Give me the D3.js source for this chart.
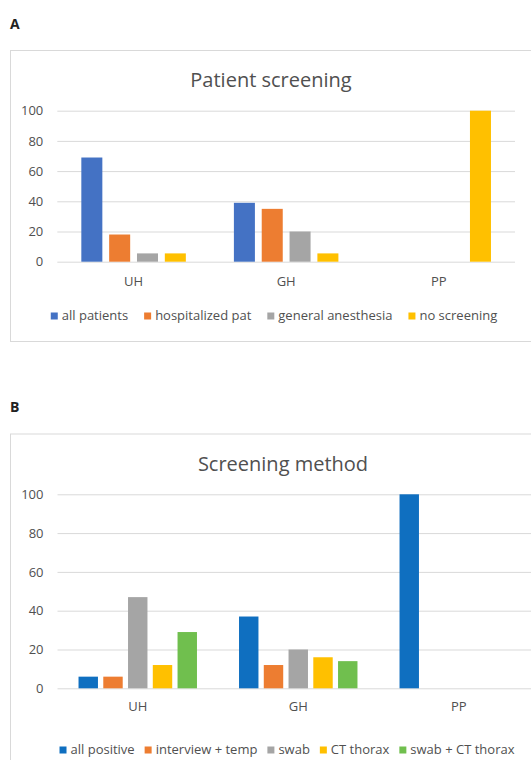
<!DOCTYPE html>
<html>
<head>
<meta charset="utf-8">
<script src="https://cdn.jsdelivr.net/npm/d3@7"></script>
<style>
  html, body { margin: 0; padding: 0; background: #fff; }
  svg { display: block; }
  text { font-family: "Open Sans", "DejaVu Sans", sans-serif; }
</style>
</head>
<body>
<svg id="chart" width="531" height="760"></svg>
<script>
// ---------- DATA ----------
const categories = ["UH", "GH", "PP"];
const yTicks = [0, 20, 40, 60, 80, 100];

// Panel A: Patient screening
const seriesA = ["all patients", "hospitalized pat", "general anesthesia", "no screening"];
const colorsA = ["#4472C4", "#ED7D31", "#A5A5A5", "#FFC000"];
const allPatients       = [69, 39, 0];
const hospitalizedPat   = [18, 35, 0];
const generalAnesthesia = [5.5, 20, 0];
const noScreening       = [5.5, 5.5, 100];
const valuesA = [allPatients, hospitalizedPat, generalAnesthesia, noScreening];

// Panel B: Screening method
const seriesB = ["all positive", "interview + temp", "swab", "CT thorax", "swab + CT thorax"];
const colorsB = ["#0F6FC0", "#ED7D31", "#A5A5A5", "#FFC000", "#70BF4E"];
const allPositive     = [6, 37, 100];
const interviewTemp   = [6, 12, 0];
const swab            = [47, 20, 0];
const ctThorax        = [12, 16, 0];
const swabCtThorax    = [29, 14, 0];
const valuesB = [allPositive, interviewTemp, swab, ctThorax, swabCtThorax];

// ---------- DRAW ----------
const svg = d3.select("#chart");
const textColor = "#505050";
const gridColor = "#D9D9D9";

function panel(cfg) {
  const g = svg.append("g");

  // panel letter
  g.append("text").attr("x", 10).attr("y", cfg.letterY)
    .attr("font-size", 14).attr("font-weight", 700).attr("fill", "#222")
    .text(cfg.letter);

  // frame
  g.append("rect")
    .attr("x", 10.5).attr("y", cfg.box[1] + 0.5)
    .attr("width", cfg.box[2] - 10).attr("height", cfg.box[3] - cfg.box[1])
    .attr("fill", "none").attr("stroke", gridColor).attr("stroke-width", 1);

  // title
  g.append("text").attr("x", cfg.titleX).attr("y", cfg.titleY)
    .attr("text-anchor", "middle").attr("font-size", 20).attr("fill", textColor)
    .text(cfg.title);

  const y = d3.scaleLinear().domain([0, 100]).range(cfg.yRange);
  const x0 = d3.scaleBand().domain(categories).range(cfg.xRange)
    .paddingInner(cfg.groupPad).paddingOuter(cfg.groupPad / 2);
  const x1 = d3.scaleBand().domain(cfg.series).range([0, x0.bandwidth()])
    .paddingInner(cfg.barPad).paddingOuter(0);

  // gridlines
  const yAxis = d3.axisLeft(y).tickValues(yTicks)
    .tickSize(-(cfg.xRange[1] - cfg.xRange[0])).tickPadding(14);
  const ga = g.append("g").attr("transform", `translate(${cfg.xRange[0]},0)`).call(yAxis);
  ga.select(".domain").remove();
  ga.selectAll(".tick line").attr("stroke", gridColor).attr("stroke-width", 1);
  ga.selectAll(".tick text").attr("font-size", 13).attr("fill", textColor)
    .attr("font-family", '"Open Sans", sans-serif');

  // bars
  cfg.series.forEach((s, si) => {
    g.append("g").attr("fill", cfg.colors[si])
      .selectAll("rect")
      .data(categories.map((c, ci) => ({ c, v: cfg.values[si][ci] })).filter(d => d.v > 0))
      .join("rect")
      .attr("x", d => x0(d.c) + x1(s))
      .attr("width", x1.bandwidth())
      .attr("y", d => y(d.v))
      .attr("height", d => y(0) - y(d.v));
  });

  // category axis
  const xAxis = d3.axisBottom(x0).tickSize(0).tickPadding(0);
  const gx = g.append("g").attr("transform", `translate(0,${y(0)})`).call(xAxis);
  gx.select(".domain").remove();
  gx.selectAll(".tick text").attr("font-size", 13).attr("fill", textColor)
    .attr("font-family", '"Open Sans", sans-serif')
    .attr("dy", null).attr("y", cfg.catBaseline - y(0));

  // legend
  const lg = g.append("g");
  const items = lg.selectAll("g.item").data(cfg.series).join("g").attr("class", "item");
  items.append("rect").attr("width", 7).attr("height", 7)
    .attr("y", cfg.legendBaseline - 7.5).attr("fill", (d, i) => cfg.colors[i]);
  items.append("text").attr("x", 11).attr("y", cfg.legendBaseline)
    .attr("font-size", 13).attr("fill", textColor).text(d => d);
  let cx = 0;
  const offs = [];
  items.each(function () {
    const w = this.querySelector("text").getComputedTextLength() + 11;
    offs.push(cx);
    cx += w + cfg.legendGap;
  });
  const total = cx - cfg.legendGap;
  const start = cfg.legendCenter - total / 2;
  items.attr("transform", (d, i) => `translate(${start + offs[i]},0)`);
}

panel({
  letter: "A", letterY: 29,
  box: [10, 50, 532, 341],
  title: "Patient screening", titleX: 271, titleY: 87,
  xRange: [57.3, 515], yRange: [261.7, 110.7],
  groupPad: 0.315, barPad: 0.245,
  series: seriesA, colors: colorsA, values: valuesA,
  catBaseline: 286.5, legendBaseline: 320, legendCenter: 274, legendGap: 16
});

panel({
  letter: "B", letterY: 412,
  box: [10, 433.5, 556, 790],
  title: "Screening method", titleX: 283, titleY: 470.5,
  xRange: [57.5, 539], yRange: [688.3, 494.3],
  groupPad: 0.262, barPad: 0.215,
  series: seriesB, colors: colorsB, values: valuesB,
  catBaseline: 711.5, legendBaseline: 754, legendCenter: 287, legendGap: 10
});
</script>
</body>
</html>
